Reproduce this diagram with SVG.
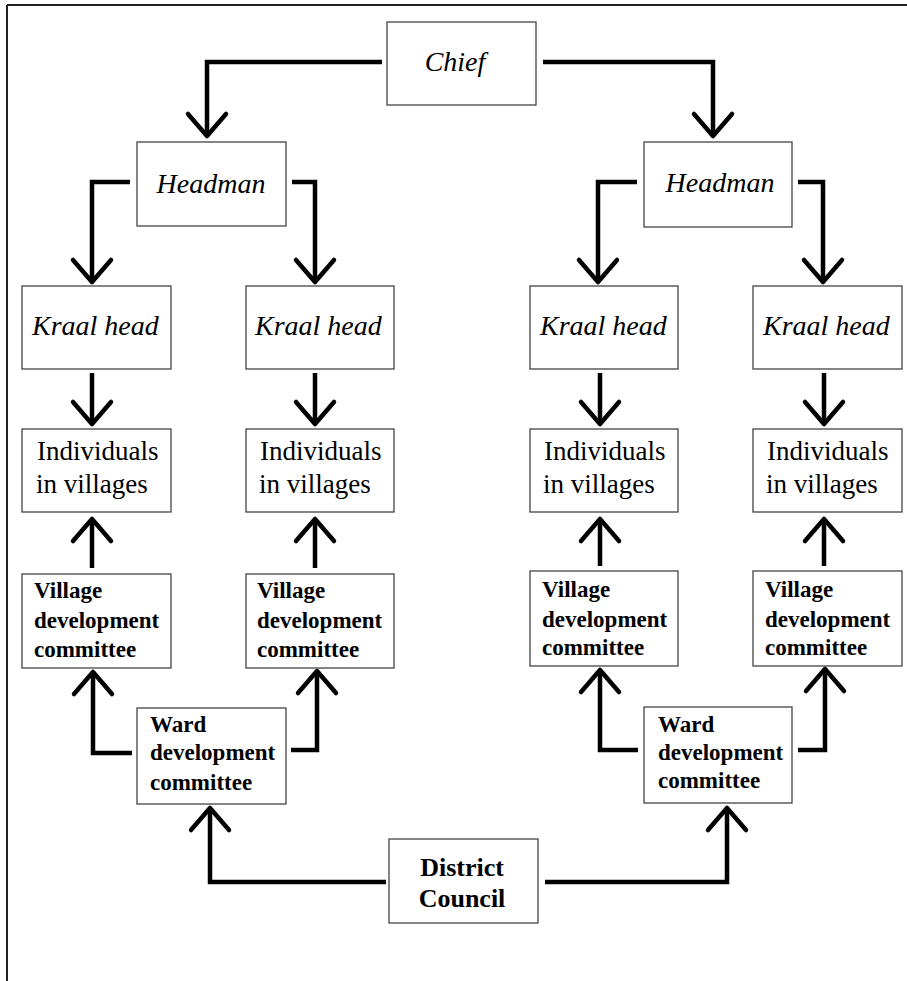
<svg xmlns="http://www.w3.org/2000/svg" width="907" height="981" viewBox="0 0 907 981">
<style>
.box{fill:#fff;stroke:#444;stroke-width:1.3}
.it{font-family:"Liberation Serif","Times New Roman",serif;font-style:italic;font-size:28px;fill:#000}
.rg{font-family:"Liberation Serif","Times New Roman",serif;font-size:27px;fill:#000}
.bd{font-family:"Liberation Serif","Times New Roman",serif;font-weight:bold;font-size:23px;fill:#000}
.dc{font-family:"Liberation Serif","Times New Roman",serif;font-weight:bold;font-size:26px;fill:#000}
.con{fill:none;stroke:#000;stroke-width:4.5;stroke-linejoin:miter;marker-end:url(#arr)}
</style>
<defs>
<marker id="arr" markerUnits="userSpaceOnUse" markerWidth="60" markerHeight="60" viewBox="-30 -30 60 60" refX="0" refY="0" orient="auto" overflow="visible">
<path d="M-22,-19 L0,0 L-22,19" fill="none" stroke="#000" stroke-width="4.5" stroke-linejoin="round" stroke-linecap="round"/>
</marker>
</defs>
<rect x="0" y="0" width="907" height="981" fill="#fff"/>
<g id="frame" stroke="#222" stroke-width="2">
<line x1="7" y1="5" x2="907" y2="5"/>
<line x1="7" y1="5" x2="7" y2="981"/>
</g>
<g id="connectors">
<path class="con" d="M382,62 H207 V136"/>
<path class="con" d="M543,62 H713 V136"/>
<path class="con" d="M130,182 H92 V282"/>
<path class="con" d="M292,182 H315 V282"/>
<path class="con" d="M637,182 H598 V282"/>
<path class="con" d="M798,182 H823 V282"/>
<path class="con" d="M92,373 V424"/>
<path class="con" d="M315,373 V424"/>
<path class="con" d="M600,373 V424"/>
<path class="con" d="M824,373 V424"/>
<path class="con" d="M92,568 V519"/>
<path class="con" d="M315,568 V519"/>
<path class="con" d="M600,566 V519"/>
<path class="con" d="M824,566 V519"/>
<path class="con" d="M132,753 H93 V672"/>
<path class="con" d="M291,750 H317 V671"/>
<path class="con" d="M638,750 H600 V670"/>
<path class="con" d="M798,750 H825 V669"/>
<path class="con" d="M386,882 H210 V808"/>
<path class="con" d="M545,882 H727 V808"/>
</g>
<g id="chief"><rect class="box" x="387" y="22" width="149" height="83"/><text class="it" x="455" y="71" text-anchor="middle">Chief</text></g>
<g id="headman-left"><rect class="box" x="137" y="142" width="149" height="84"/><text class="it" x="211" y="193" text-anchor="middle">Headman</text></g>
<g id="headman-right"><rect class="box" x="644" y="142" width="148" height="85"/><text class="it" x="720" y="192" text-anchor="middle">Headman</text></g>
<g id="kraal-1"><rect class="box" x="22" y="286" width="149" height="83"/><text class="it" x="32" y="335">Kraal head</text></g>
<g id="kraal-2"><rect class="box" x="246" y="286" width="148" height="83"/><text class="it" x="255" y="335">Kraal head</text></g>
<g id="kraal-3"><rect class="box" x="530" y="286" width="148" height="83"/><text class="it" x="540" y="335">Kraal head</text></g>
<g id="kraal-4"><rect class="box" x="753" y="286" width="149" height="83"/><text class="it" x="763" y="335">Kraal head</text></g>
<g id="individuals-1"><rect class="box" x="22" y="429" width="149" height="83"/><text class="rg" x="37" y="460">Individuals</text><text class="rg" x="36" y="493">in villages</text></g>
<g id="individuals-2"><rect class="box" x="246" y="429" width="148" height="83"/><text class="rg" x="260" y="460">Individuals</text><text class="rg" x="259" y="493">in villages</text></g>
<g id="individuals-3"><rect class="box" x="530" y="429" width="148" height="83"/><text class="rg" x="544" y="460">Individuals</text><text class="rg" x="543" y="493">in villages</text></g>
<g id="individuals-4"><rect class="box" x="753" y="429" width="149" height="83"/><text class="rg" x="767" y="460">Individuals</text><text class="rg" x="766" y="493">in villages</text></g>
<g id="vdc-1"><rect class="box" x="22" y="574" width="149" height="94"/><text class="bd" x="34" y="598">Village</text><text class="bd" x="34" y="628">development</text><text class="bd" x="34" y="657">committee</text></g>
<g id="vdc-2"><rect class="box" x="246" y="574" width="148" height="94"/><text class="bd" x="257" y="598">Village</text><text class="bd" x="257" y="628">development</text><text class="bd" x="257" y="657">committee</text></g>
<g id="vdc-3"><rect class="box" x="530" y="571" width="148" height="95"/><text class="bd" x="542" y="597">Village</text><text class="bd" x="542" y="627">development</text><text class="bd" x="542" y="655">committee</text></g>
<g id="vdc-4"><rect class="box" x="753" y="571" width="149" height="95"/><text class="bd" x="765" y="597">Village</text><text class="bd" x="765" y="627">development</text><text class="bd" x="765" y="655">committee</text></g>
<g id="wdc-left"><rect class="box" x="137" y="708" width="149" height="96"/><text class="bd" x="150" y="732">Ward</text><text class="bd" x="150" y="760">development</text><text class="bd" x="150" y="790">committee</text></g>
<g id="wdc-right"><rect class="box" x="644" y="707" width="148" height="96"/><text class="bd" x="658" y="732">Ward</text><text class="bd" x="658" y="760">development</text><text class="bd" x="658" y="788">committee</text></g>
<g id="district-council"><rect class="box" x="389" y="839" width="149" height="84"/><text class="dc" x="462" y="876" text-anchor="middle">District</text><text class="dc" x="462" y="907" text-anchor="middle">Council</text></g>
</svg>
